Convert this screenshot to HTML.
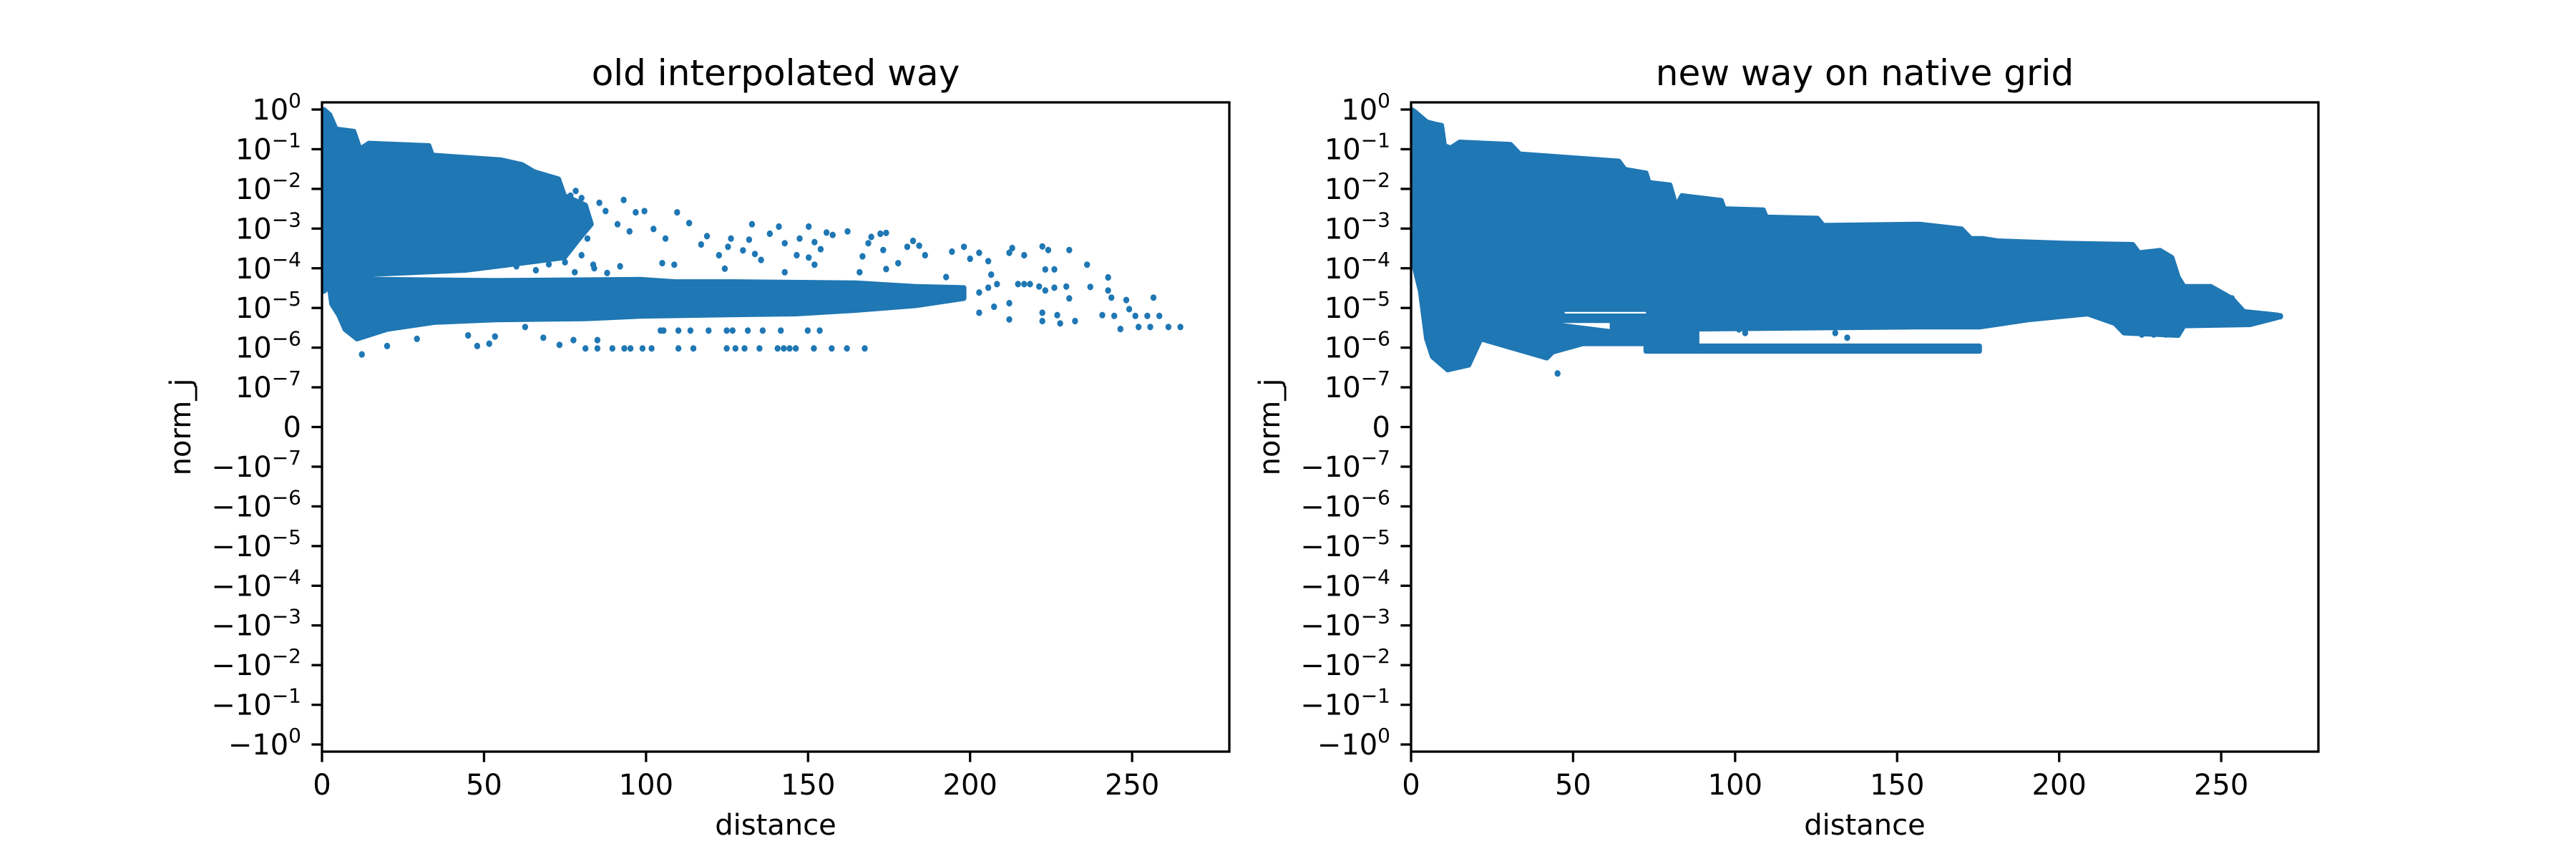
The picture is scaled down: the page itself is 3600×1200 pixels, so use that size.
<!DOCTYPE html>
<html><head><meta charset="utf-8"><style>
html,body{margin:0;padding:0;background:#fff;}
svg{display:block;font-family:"DejaVu Sans","Liberation Sans",sans-serif;}
</style></head><body>
<svg id="fig" width="3600" height="1200" viewBox="0 0 3600 1200" xmlns="http://www.w3.org/2000/svg">
<rect width="3600" height="1200" fill="#fff"/>
<defs>
<clipPath id="clipL"><rect x="450" y="143" width="1268" height="907"/></clipPath>
<clipPath id="clipR"><rect x="1972" y="143" width="1268" height="907"/></clipPath>
</defs>
<g id="panelL"></g>
<g id="panelR"></g>
</svg>
<script>
// ---- data (x = distance, y = log10(norm_j)) ----
const xTicks = [0, 50, 100, 150, 200, 250];
const yTickLabelsBase = ["0","-1","-2","-3","-4","-5","-6","-7"];
const xMax = 280;

const oldBlobX = [0.6,2.4,4.3,9.8,11.7,14.5,33.0,34.0,55.3,61.8,65.5,73.0,74.8,81.3,83.1,79.4,74.8,59.0,44.2,16.3,5.2,3.4,0.6];
const oldBlobLog = [0,-0.13,-0.49,-0.55,-1.0,-0.85,-0.91,-1.15,-1.27,-1.39,-1.57,-1.75,-2.17,-2.41,-2.89,-3.25,-3.73,-3.9,-4.05,-4.15,-4.22,-4.34,-4.58];
const oldBandX = [5.2,16.3,53.4,98.0,109.1,127.6,164.7,183.3,198.1,198.1,183.3,164.7,146.2,118.4,98.0,81.3,53.4,34.9,20.1,10.8,7.1,5.2,3.0,2.0];
const oldBandLog = [-4.22,-4.28,-4.31,-4.28,-4.34,-4.34,-4.37,-4.46,-4.49,-4.76,-4.94,-5.06,-5.15,-5.18,-5.21,-5.27,-5.30,-5.36,-5.54,-5.78,-5.54,-5.18,-4.9,-4.3];
const oldPtsX = [264.9,261.2,255.6,252,246.4,258.4,254.7,251,244.5,240.8,249.1,248.2,256.6,243.6,242.6,242.6,237.1,236.1,232.4,227.8,226.9,222.3,222.3,230.6,229.7,226,223.2,221.3,214.8,216.7,218.5,223.2,226,230.6,224.1,222.3,216.7,213,212.1,212.1,212.1,208.3,207.4,206.5,205.6,205.6,202.8,202.8,202.8,200,198.1,194.4,192.6,186.1,184.3,182.4,180.6,177.8,174.1,173.2,169.5,172.3,174.1,168.6,166.8,165.9,162.2,157.6,155.7,153.9,152,152,150.2,150.2,147.4,146.5,142.8,142.8,141,138.2,135.5,133.6,132.7,131.8,129.9,126.2,125.3,124.3,122.5,118.8,117,113.3,109.6,108.7,106,105,102.3,99.5,96.8,93.1,94.9,91.2,87.5,85.6,83.7,80.1,81.9,78.3,80.1,76.7,
47.9,51.6,53.4,62.7,68.3,73.3,77.6,85,20.1,12.3,29.3,45.1,
81.3,85,89.6,93.3,95.2,98.9,101.7,110,114.6,124.9,127.6,130.4,135,140.6,142.5,144.3,146.2,151.8,157.3,162,167.5,
104.5,105.4,110,113.7,119.3,124.9,126.7,131.4,136,141.6,149.9,153.6,
60,66,70,75,78,84,88,92];
const oldPtsLog = [-5.48,-5.48,-5.48,-5.48,-5.53,-5.2,-5.2,-5.2,-5.2,-5.18,-5.03,-4.8,-4.74,-4.74,-4.56,-4.23,-4.47,-3.91,-5.33,-5.39,-5.18,-5.33,-5.12,-4.76,-4.46,-4.49,-4.56,-4.46,-4.4,-4.4,-4.4,-4.03,-4.03,-3.54,-3.54,-3.45,-3.67,-3.49,-3.61,-4.88,-5.29,-4.4,-4.97,-4.16,-4.49,-3.82,-3.61,-4.61,-5.12,-3.76,-3.46,-3.58,-4.22,-3.67,-3.43,-3.31,-3.46,-3.87,-4.02,-3.54,-3.21,-3.13,-3.11,-3.37,-3.7,-4.1,-3.07,-3.16,-3.1,-3.52,-3.34,-3.91,-2.95,-3.73,-3.25,-3.67,-3.37,-4.1,-2.95,-3.13,-3.79,-3.64,-2.89,-3.28,-3.55,-3.25,-3.46,-4.01,-3.67,-3.19,-3.4,-2.86,-2.59,-3.91,-3.25,-3.87,-3.01,-2.56,-2.59,-2.28,-3.07,-2.89,-2.56,-2.35,-3.91,-3.67,-3.25,-2.05,-2.23,-2.17,
-5.96,-5.9,-5.72,-5.48,-5.75,-5.93,-5.81,-5.81,-5.96,-6.17,-5.78,-5.69,
-6.02,-6.02,-6.02,-6.02,-6.02,-6.02,-6.02,-6.02,-6.02,-6.02,-6.02,-6.02,-6.02,-6.02,-6.02,-6.02,-6.02,-6.02,-6.02,-6.02,-6.02,
-5.57,-5.57,-5.57,-5.57,-5.57,-5.57,-5.57,-5.57,-5.57,-5.57,-5.57,-5.57,
-3.95,-4.05,-3.9,-3.85,-4.1,-4.0,-4.12,-3.95];

const newMainX = [1.1,4.8,7.5,9.4,10.3,12.2,15.0,30.7,33.5,64.1,66.0,72.5,73.4,79.9,81.8,83.6,95.7,96.6,108.7,109.6,125.4,127.2,156.9,169.9,172.7,176.4,181.0,201.4,222.7,224.6,231.1,234.8,236.7,238.5,246.8,253.3,257.0,267.5,
267.5,258.9,238.5,236.7,220.0,217.2,208.8,190.3,175.4,155.0,88.2,88.2,53.0,43.7,41.9,21.5,17.8,11.3,6.6,4.8,2.9,1.06,0.1,0.1];
const newMainLog = [-0.05,-0.31,-0.37,-0.40,-0.91,-0.97,-0.82,-0.88,-1.12,-1.30,-1.51,-1.60,-1.84,-1.90,-2.44,-2.17,-2.29,-2.50,-2.53,-2.71,-2.74,-2.92,-2.89,-3.01,-3.25,-3.25,-3.31,-3.37,-3.40,-3.61,-3.55,-3.73,-4.22,-4.46,-4.46,-4.76,-5.09,-5.18,
-5.24,-5.42,-5.45,-5.69,-5.63,-5.39,-5.15,-5.30,-5.48,-5.48,-5.53,-5.90,-5.90,-6.11,-6.26,-5.78,-6.44,-6.56,-6.23,-5.78,-4.58,-3.98,-1.57,0];
const newStripX = [72.5,175.4,175.4,72.5];
const newStripLog = [-5.96,-5.96,-6.09,-6.09];
const newHole1X = [47.4,72.5,72.5,47.4];
const newHole1Log = [-5.1,-5.1,-5.14,-5.14];
const newHole2X = [46.5,61.3,61.3];
const newHole2Log = [-5.38,-5.38,-5.53];
const newPtsX = [45.2,242.2,245.9,249.6,253.3,243.1,246.8,264.5,268.2,251.5,255.2,258.9,225.5,229.2,232.9,236.6,130.9,134.6,103.1,101.2];
const newPtsLog = [-6.65,-4.76,-4.76,-4.76,-4.76,-4.49,-4.49,-5.21,-5.21,-5.39,-5.39,-5.39,-5.67,-5.67,-5.67,-5.67,-5.63,-5.75,-5.63,-5.54];

// ---- layout ----
const NS = "http://www.w3.org/2000/svg";
const TOP = 143, BOT = 1050, W = 1268, DEC = 55.44, Y0 = 153;
const BLUE = "#1f77b4";
function mk(tag, attrs, parent){ const e = document.createElementNS(NS, tag); for (const k in attrs) e.setAttribute(k, attrs[k]); parent.appendChild(e); return e; }
function yOfLog(l){ return Y0 + (-l) * DEC; }
function yOfIndex(i){ return Y0 + i * DEC; }

function drawPanel(g, left, title, clipId, polys, holes, ptsX, ptsLog){
  const xOf = v => left + v / xMax * W;
  const dg = mk("g", {"clip-path": "url(#" + clipId + ")"}, g);
  
  
  polys.forEach(p => {
    const pts = p[0].map((x, i) => xOf(x).toFixed(1) + "," + yOfLog(p[1][i]).toFixed(1)).join(" ");
    const pg = mk("polygon", {points: pts, fill: BLUE, stroke: BLUE, "stroke-width": 7, "stroke-linejoin": "round"}, dg);
    
    
  });
  holes.forEach(p => {
    const pts = p[0].map((x, i) => xOf(x).toFixed(1) + "," + yOfLog(p[1][i]).toFixed(1)).join(" ");
    const hg = mk("polygon", {points: pts, fill: "#fff"}, dg);
    
    
  });
  ptsX.forEach((x, i) => {
    const c = mk("ellipse", {cx: xOf(x).toFixed(1), cy: yOfLog(ptsLog[i]).toFixed(1), rx: 4.2, ry: 4.6, fill: BLUE}, dg);
    
    
  });
  const fr = mk("rect", {x: left, y: TOP, width: W, height: BOT - TOP, fill: "none", stroke: "#000", "stroke-width": 3.3}, g);
  
  
  xTicks.forEach(t => {
    const x = xOf(t);
    const tk = mk("line", {x1: x, y1: BOT, x2: x, y2: BOT + 14.6, stroke: "#000", "stroke-width": 3.3}, g);
    
    
    const tl = mk("text", {x: x, y: 1110, "font-size": 40, "text-anchor": "middle"}, g);
    tl.textContent = String(t);
    
    
  });
  const labels = [];
  yTickLabelsBase.forEach(e => labels.push(["", e]));
  labels.push(null);
  yTickLabelsBase.slice().reverse().forEach(e => labels.push(["\u2212", e]));
  labels.forEach((lb, i) => {
    const y = yOfIndex(i);
    const tk = mk("line", {x1: left - 14.6, y1: y, x2: left, y2: y, stroke: "#000", "stroke-width": 3.3}, g);
    
    
    const t = mk("text", {x: left - 29, y: y + 14, "font-size": 40, "text-anchor": "end"}, g);
    
    
    if (lb === null) { t.textContent = "0"; }
    else {
      t.appendChild(document.createTextNode(lb[0] + "10"));
      const s = mk("tspan", {dy: -17, "font-size": 28}, t);
      s.textContent = lb[1].replace("-", "\u2212");
    }
  });
  const tt = mk("text", {x: left + W / 2, y: 119, "font-size": 50, "text-anchor": "middle"}, g);
  tt.textContent = title;
  
  
  const xl = mk("text", {x: left + W / 2, y: 1166, "font-size": 40, "text-anchor": "middle"}, g);
  xl.textContent = "distance";
  
  
  const cy = (TOP + BOT) / 2, lx = left - 184;
  const yl = mk("text", {x: lx, y: cy, "font-size": 40, "text-anchor": "middle", transform: "rotate(-90 " + lx + " " + cy + ")"}, g);
  yl.textContent = "norm_j";
  
  
}

drawPanel(document.getElementById("panelL"), 450, "old interpolated way", "clipL",
  [[oldBlobX, oldBlobLog], [oldBandX, oldBandLog]], [], oldPtsX, oldPtsLog);
drawPanel(document.getElementById("panelR"), 1972, "new way on native grid", "clipR",
  [[newMainX, newMainLog], [newStripX, newStripLog]],
  [[newHole1X, newHole1Log], [newHole2X, newHole2Log]],
  newPtsX, newPtsLog);
</script>
</body></html>
